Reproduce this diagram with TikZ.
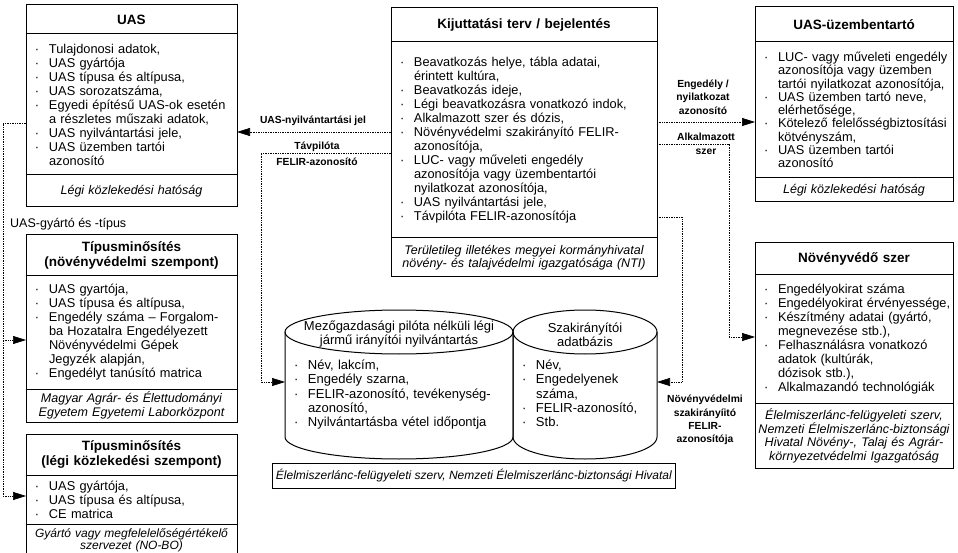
\documentclass[tikz,border=0pt]{standalone}
\usepackage{fontspec}
\setmainfont{Liberation Sans}
\usetikzlibrary{positioning,arrows.meta}

\newcommand{\itm}[1]{{\leftskip=9pt\rightskip=-15pt plus 1fil\hangindent=14pt\hangafter=1\noindent\hbox to 14pt{\textperiodcentered\hfil}#1\par}}

\tikzset{
  hdr/.style={draw, line width=1pt, inner xsep=0pt, inner ysep=2pt, outer sep=0pt, align=center, font=\fontsize{13.5}{15}\selectfont\bfseries},
  bdy/.style={draw, line width=1pt, inner xsep=0pt, inner ysep=2pt, outer sep=0pt, align=left, font=\fontsize{12.8}{14}\selectfont},
  ftr/.style={draw, line width=1pt, inner xsep=0pt, inner ysep=2pt, outer sep=0pt, align=center, font=\fontsize{12.5}{13.3}\selectfont\itshape},
  dbtext/.style={inner xsep=0pt, inner ysep=0pt, outer sep=0pt, align=left, font=\fontsize{13}{14.3}\selectfont},
  lbl/.style={inner sep=1pt, align=center, font=\fontsize{10.3}{13.3}\selectfont\bfseries},
  link/.style={densely dotted, line width=0.7pt},
  tip/.style={-{Triangle[length=13pt,width=8pt]}},
  cyl/.style={line width=1pt}
}

\begin{document}
\begin{tikzpicture}[x=1pt,y=1pt]
\useasboundingbox (0,0) rectangle (958,-553);

% UAS
\node[hdr, text width=211pt, minimum height=29pt, anchor=north west] (uashead) at (26,-5) {UAS};
\node[bdy, text width=211pt, minimum height=141pt, below=0pt of uashead] (uasbody) {%
\itm{Tulajdonosi adatok,}
\itm{UAS gyártója}
\itm{UAS típusa és altípusa,}
\itm{UAS sorozatszáma,}
\itm{Egyedi építésű UAS-ok esetén\newline a részletes műszaki adatok,}
\itm{UAS nyilvántartási jele,}
\itm{UAS üzemben tartói\newline azonosító}};
\node[ftr, text width=211pt, minimum height=32pt, below=0pt of uasbody] (uasfoot) {Légi közlekedési hatóság};

% kijuttatasi terv
\node[hdr, text width=266pt, minimum height=34pt, anchor=north west] (kijhead) at (391,-8) {Kijuttatási terv / bejelentés};
\node[bdy, text width=266pt, minimum height=196pt, below=0pt of kijhead] (kijbody) {%
\itm{Beavatkozás helye, tábla adatai,\newline érintett kultúra,}
\itm{Beavatkozás ideje,}
\itm{Légi beavatkozásra vonatkozó indok,}
\itm{Alkalmazott szer és dózis,}
\itm{Növényvédelmi szakirányító FELIR-\newline azonosítója,}
\itm{LUC- vagy műveleti engedély\newline azonosítója vagy üzembentartói\newline nyilatkozat azonosítója,}
\itm{UAS nyilvántartási jele,}
\itm{Távpilóta FELIR-azonosítója}};
\node[ftr, text width=266pt, minimum height=39pt, below=0pt of kijbody] (kijfoot) {Területileg illetékes megyei kormányhivatal\\növény- és talajvédelmi igazgatósága (NTI)};

% uzembentarto
\node[hdr, text width=198pt, minimum height=35pt, anchor=north west] (uzemhead) at (755,-7) {UAS-üzembentartó};
\node[bdy, text width=198pt, minimum height=136pt, below=0pt of uzemhead, font=\fontsize{12.8}{13.3}\selectfont] (uzembody) {%
\itm{LUC- vagy műveleti engedély\newline azonosítója vagy üzemben\newline tartói nyilatkozat azonosítója,}
\itm{UAS üzemben tartó neve,\newline elérhetősége,}
\itm{Kötelező felelősségbiztosítási\newline kötvényszám,}
\itm{UAS üzemben tartói\newline azonosító}};
\node[ftr, text width=198pt, minimum height=24pt, below=0pt of uzembody] (uzemfoot) {Légi közlekedési hatóság};

% novenyvedo szer
\node[hdr, text width=198pt, minimum height=32pt, anchor=north west] (novhead) at (755,-243) {Növényvédő szer};
\node[bdy, text width=198pt, minimum height=128pt, below=0pt of novhead] (novbody) {%
\itm{Engedélyokirat száma}
\itm{Engedélyokirat érvényessége,}
\itm{Készítmény adatai (gyártó,\newline megnevezése stb.),}
\itm{Felhasználásra vonatkozó\newline adatok (kultúrák,\newline dózisok stb.),}
\itm{Alkalmazandó technológiák}};
\node[ftr, text width=198pt, minimum height=65pt, below=0pt of novbody] (novfoot) {Élelmiszerlánc-felügyeleti szerv,\\Nemzeti Élelmiszerlánc-biztonsági\\Hivatal Növény-, Talaj és Agrár-\\környezetvédelmi Igazgatóság};

% tipusminosites 1
\node[hdr, text width=211pt, minimum height=41pt, anchor=north west] (tip1head) at (26,-235) {Típusminősítés\\(növényvédelmi szempont)};
\node[bdy, text width=211pt, minimum height=113pt, below=0pt of tip1head] (tip1body) {%
\itm{UAS gyartója,}
\itm{UAS típusa és altípusa,}
\itm{Engedély száma – Forgalom-\newline ba Hozatalra Engedélyezett\newline Növényvédelmi Gépek\newline Jegyzék alapján,}
\itm{Engedélyt tanúsító matrica}};
\node[ftr, text width=211pt, minimum height=33pt, below=0pt of tip1body] (tip1foot) {Magyar Agrár- és Élettudományi\\Egyetem Egyetemi Laborközpont};

% tipusminosites 2
\node[hdr, text width=211pt, minimum height=41pt, anchor=north west] (tip2head) at (26,-434) {Típusminősítés\\(légi közlekedési szempont)};
\node[bdy, text width=211pt, minimum height=49pt, below=0pt of tip2head] (tip2body) {%
\itm{UAS gyártója,}
\itm{UAS típusa és altípusa,}
\itm{CE matrica}};
\node[ftr, text width=211pt, minimum height=32pt, below=0pt of tip2body, font=\fontsize{12}{12}\selectfont\itshape] (tip2foot) {Gyártó vagy megfelelelőségértékelő\\szervezet (NO-BO)};

% adatbazisok
\draw[cyl] (285,-332) -- (285,-437) arc[start angle=180, end angle=360, x radius=114pt, y radius=22pt] -- (513,-332);
\draw[cyl] (399,-332) ellipse[x radius=114pt, y radius=22pt];
\draw[cyl] (513,-332) -- (513,-437) arc[start angle=180, end angle=360, x radius=72pt, y radius=22pt] -- (657,-332);
\draw[cyl] (585,-332) ellipse[x radius=72pt, y radius=22pt];

\node[dbtext, align=center] (pilottitle) at (399,-334) {Mezőgazdasági pilóta nélküli légi\\jármű irányítói nyilvántartás};
\node[dbtext, text width=228pt, anchor=north west] (pilotlist) at (285,-360) {%
\itm{Név, lakcím,}
\itm{Engedély szarna,}
\itm{FELIR-azonosító, tevékenység-\newline azonosító,}
\itm{Nyilvántartásba vétel időpontja}};
\node[dbtext, align=center] (szaktitle) at (585,-335) {Szakirányítói\\adatbázis};
\node[dbtext, text width=144pt, anchor=north west] (szaklist) at (513,-360) {%
\itm{Név,}
\itm{Engedelyenek\newline száma,}
\itm{FELIR-azonosító,}
\itm{Stb.}};
\node[draw, line width=0.8pt, inner sep=0pt, minimum width=403pt, minimum height=25pt, anchor=north west, font=\fontsize{12}{13}\selectfont\itshape] (dbfoot) at (272,-463) {Élelmiszerlánc-felügyeleti szerv, Nemzeti Élelmiszerlánc-biztonsági Hivatal};

% kapcsolatok
\coordinate (jel) at (0,-132);
\coordinate (tavbend) at (261,-153);
\coordinate (tavend) at (261,-382);
\coordinate (gytop) at (3,-123);
\coordinate (gymid) at (3,-340);
\coordinate (gybot) at (3,-496);
\coordinate (eng) at (0,-122);
\coordinate (szerbend) at (729,-144);
\coordinate (szerend) at (729,-337);
\coordinate (szakbend) at (682,-217);
\coordinate (szakend) at (682,-382);

\draw[link,tip] (kijbody.west |- jel) -- (uasbody.east |- jel);
\draw[link,tip] (kijbody.west |- tavbend) -- (tavbend) -- (tavend) -- (pilotlist.west |- tavend);
\draw[link,tip] (uasbody.west |- gytop) -- (gytop) -- (gybot) -- (tip2body.west |- gybot);
\draw[link,tip] (gymid) -- (tip1body.west |- gymid);
\draw[link,tip] (kijbody.east |- eng) -- (uzembody.west |- eng);
\draw[link,tip] (kijbody.east |- szerbend) -- (szerbend) -- (szerend) -- (novbody.west |- szerend);
\draw[link,tip] (kijbody.east |- szakbend) -- (szakbend) -- (szakend) -- (szaklist.east |- szakend);

\node[lbl] (jellbl) at (313,-121) {UAS-nyilvántartási jel};
\node[lbl] (tavlbl) at (317,-154) {Távpilóta\\[3pt]FELIR-azonosító};
\node[lbl] (englbl) at (703,-97) {Engedély /\\nyilatkozat\\azonosító};
\node[lbl] (szerlbl) at (706,-144) {Alkalmazott\\[1pt]szer};
\node[lbl] (szaklbl) at (705,-420) {Növényvédelmi\\szakirányíitó\\FELIR-\\azonosítója};
\node[anchor=west, inner sep=0pt, font=\fontsize{12.5}{14}\selectfont] (gylbl) at (10,-224) {UAS-gyártó és -típus};

\end{tikzpicture}
\end{document}
